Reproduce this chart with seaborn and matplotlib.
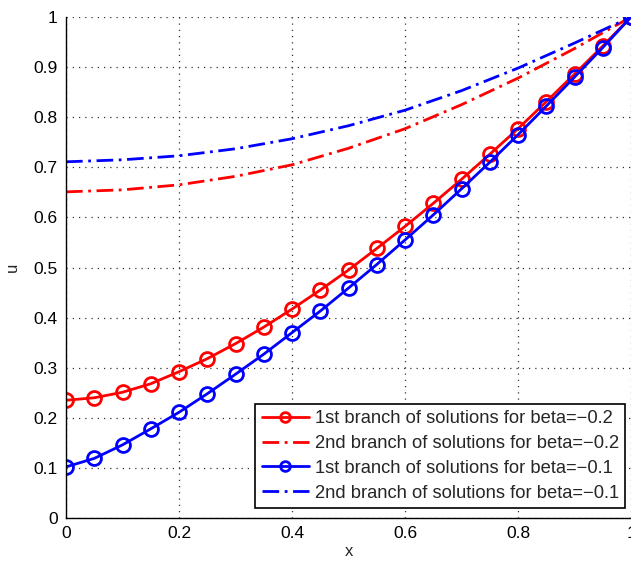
import matplotlib.pyplot as plt
import seaborn as sns
import numpy as np

# branch solutions u(x), two values of beta

x_first = [0, 0.05, 0.1, 0.15, 0.2, 0.25, 0.3, 0.35, 0.4, 0.45, 0.5,
           0.55, 0.6, 0.65, 0.7, 0.75, 0.8, 0.85, 0.9, 0.95, 1.0]
u_first_b02 = [0.235, 0.240, 0.251, 0.268, 0.292, 0.318, 0.348, 0.381, 0.417, 0.455, 0.495,
               0.538, 0.582, 0.628, 0.676, 0.726, 0.777, 0.831, 0.886, 0.942, 1.0]
u_first_b01 = [0.102, 0.119, 0.146, 0.178, 0.211, 0.248, 0.287, 0.327, 0.370, 0.413, 0.459,
               0.506, 0.555, 0.605, 0.657, 0.710, 0.765, 0.822, 0.880, 0.939, 1.0]

x_second = [0, 0.1, 0.2, 0.3, 0.4, 0.5, 0.6, 0.7, 0.8, 0.9, 1.0]
u_second_b02 = [0.651, 0.655, 0.665, 0.682, 0.705, 0.738, 0.777, 0.825, 0.878, 0.937, 1.0]
u_second_b01 = [0.711, 0.715, 0.723, 0.737, 0.757, 0.783, 0.814, 0.853, 0.898, 0.948, 1.0]

labels = ['1st branch of solutions for beta=\u22120.2',
          '2nd branch of solutions for beta=\u22120.2',
          '1st branch of solutions for beta=\u22120.1',
          '2nd branch of solutions for beta=\u22120.1']

sns.set_style('white')
plt.rcParams['font.family'] = ['Liberation Sans', 'DejaVu Sans']

fig = plt.figure(figsize=(6.31, 5.67), dpi=100)
ax = fig.add_axes([0.1046, 0.0864, 0.8954, 0.8836])

dashdot = (0, (6, 2, 1, 2))  # long dash, short gap, dot, like matlab's -.

sns.lineplot(x=x_first, y=u_first_b02, color='red', marker='o', markersize=10,
             markerfacecolor='none', markeredgecolor='red', markeredgewidth=2,
             linewidth=2, label=labels[0], ax=ax)
sns.lineplot(x=x_second, y=u_second_b02, color='red', linestyle=dashdot, linewidth=2,
             label=labels[1], ax=ax)
sns.lineplot(x=x_first, y=u_first_b01, color='blue', marker='o', markersize=10,
             markerfacecolor='none', markeredgecolor='blue', markeredgewidth=2,
             linewidth=2, label=labels[2], ax=ax)
sns.lineplot(x=x_second, y=u_second_b01, color='blue', linestyle=dashdot, linewidth=2,
             label=labels[3], ax=ax)

ax.set_xlim(0, 1)
ax.set_ylim(0, 1)
ax.set_xticks(np.arange(0, 1.01, 0.2))
ax.set_xticklabels(['0', '0.2', '0.4', '0.6', '0.8', '1'])
ax.set_yticks(np.arange(0, 1.01, 0.1))
ax.set_yticklabels(['0', '0.1', '0.2', '0.3', '0.4', '0.5', '0.6', '0.7', '0.8', '0.9', '1'])
ax.tick_params(direction='in', length=4, labelsize=12.5, colors='black', pad=6)
ax.grid(True, linestyle=(0, (1, 4)), color='#333333', linewidth=0.9)

for side in ['top', 'right']:
    ax.spines[side].set_visible(False)
for side in ['left', 'bottom']:
    ax.spines[side].set_color('black')
    ax.spines[side].set_linewidth(1)

ax.set_xlabel('x', fontsize=12, labelpad=2)
ax.set_ylabel('u', fontsize=12, labelpad=10)

leg = ax.legend(loc='lower right', fontsize=13.2, frameon=True, fancybox=False,
                edgecolor='black', framealpha=1, borderpad=0.35, labelspacing=0.42,
                handlelength=2.6, handletextpad=0.3, borderaxespad=0,
                bbox_to_anchor=(0.99, 0.02))
leg.get_frame().set_linewidth(1.2)
for h in leg.legend_handles:
    h.set_markersize(7)

plt.savefig('out.png', dpi=100)
